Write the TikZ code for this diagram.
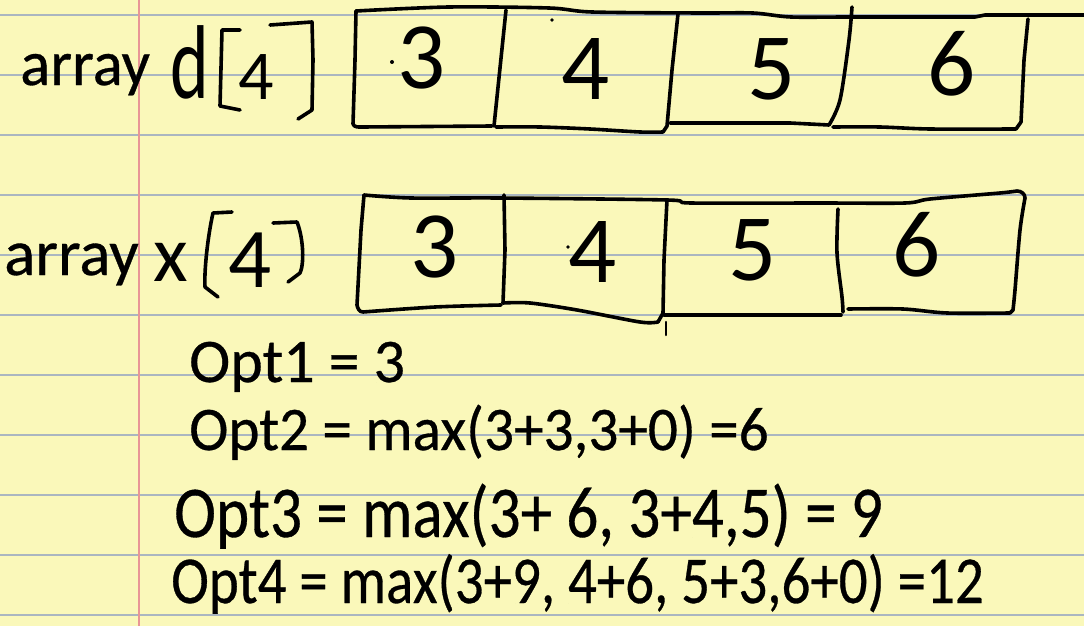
\documentclass[tikz,border=0pt]{standalone}
\usepackage{fontspec}
\setmainfont{Carlito}
\newfontfamily\typedfont{Carlito}[FakeBold=0.5]
\definecolor{paper}{RGB}{250,248,186}
\definecolor{rulec}{RGB}{170,182,192}
\definecolor{marginc}{RGB}{232,150,150}
\begin{document}
\begin{tikzpicture}[x=1pt,y=-1pt,
  ink/.style={line width=3.6pt, line cap=round, line join=round, black},
  typed/.style={inner sep=0pt, anchor=base west},
  digit/.style={inner sep=0pt, font=\fontsize{95}{95}\selectfont},
  hand/.style={inner sep=0pt}]
\fill[paper] (0,0) rectangle (1084,626);
\useasboundingbox (0,0) rectangle (1084,626);
\foreach \k in {0,...,10} \draw[rulec, line width=1.8pt] (0,15+60*\k) -- (1084,15+60*\k);
\draw[marginc, line width=1.8pt] (139,0) -- (139,626);

% typed labels
\node[typed, font=\typedfont\fontsize{64}{64}\selectfont] (arr1) at (20,85) {\scalebox{0.98}[1]{array}};
\node[typed, font=\typedfont\fontsize{65}{65}\selectfont] (arr2) at (4,275) {\scalebox{1.0}[1]{array}};

% handwritten names
\node[hand, font=\fontsize{105}{105}\selectfont] (dd) at (190,62) {\scalebox{0.7}[1]{d}};
\node[hand, font=\fontsize{70}{70}\selectfont] (d4) at (256,77) {4};
\node[hand, font=\fontsize{80}{80}\selectfont] (xx) at (171,262) {x};
\node[hand, font=\fontsize{85}{85}\selectfont] (x4) at (250,260) {4};
\draw[ink] (240,30) -- (222,30) -- (220,106) -- (240,110);
\draw[ink] (270,25) -- (312,22) -- (313,60) -- (312,110) -- (298,119);
\draw[ink] (232,212) -- (213,213) .. controls (208,235) and (204,270) .. (205,287) -- (218,297);
\draw[ink] (273,223) -- (297,222) .. controls (304,240) and (304,265) .. (300,273) -- (288,282);

% top row boxes
\draw[ink] (353,124) -- (355,60) -- (356,11);
\draw[ink] plot[smooth,tension=0.5] coordinates {(356,11) (449,7) (549,8) (592,12) (700,13) (753,13) (791,17) (850,17) (975,17)} -- (985,15) -- (1084,15);
\draw[ink] (353,124) to[out=-70,in=180] (362,127) -- (492,126);
\draw[ink] (506,10) -- (494,126);
\draw[ink] plot[smooth] coordinates {(496,127) (540,127) (590,129) (640,132) (663,132)};
\draw[ink] (678,14) -- (672,70) -- (667,126) -- (663,132);
\draw[ink] (670,123) -- (790,123) -- (829,125);
\draw[ink] plot[smooth] coordinates {(852,7) (849,40) (840,100) (829,125)};
\draw[ink] plot[smooth] coordinates {(833,127) (880,127) (930,129) (1016,129)};
\draw[ink] (1028,19) -- (1024,60) -- (1021,122) -- (1016,129);

% top row values
\node[digit] (a1) at (422,58) {3};
\node[digit] (a2) at (586,69) {4};
\node[digit] (a3) at (772,69) {5};
\node[digit] (a4) at (952,64) {6};
\fill (392,62) circle (2);
\fill (552,20) circle (1.8);

% second row boxes
\draw[ink] plot[smooth,tension=0.5] coordinates {(364,195) (411,198) (500,198) (667,200) (691,203) (820,203) (905,203) (930,199) (1000,193) (1017,191)} to[out=0,in=90] (1025,198);
\draw[ink] (364,195) -- (361,230) -- (357,305) to[out=-80,in=180] (363,312);
\draw[ink] plot[smooth] coordinates {(363,312) (435,307) (501,305)};
\draw[ink] (504,195) -- (505,250) -- (503,303);
\draw[ink] plot[smooth] coordinates {(503,303) (530,303) (577,310) (640,322) (658,322)};
\draw[ink] (667,200) -- (664,260) -- (663,313) -- (658,322);
\draw[ink, line width=2.5pt] (666,322) -- (666,335);
\draw[ink] (664,315) -- (841,315);
\draw[ink] plot[smooth] coordinates {(838,209) (837,253) (842,297) (843,312)};
\draw[ink] plot[smooth] coordinates {(848,309) (903,309) (947,313) (1010,313)};
\draw[ink] plot[smooth] coordinates {(1025,198) (1020,230) (1015,290) (1013,310)} -- (1010,313);

% second row values
\node[digit] (b1) at (435,247) {3};
\node[digit] (b2) at (593,252) {4};
\node[digit] (b3) at (753,250) {5};
\node[digit] (b4) at (917,245) {6};
\fill (568,247) circle (1.8);

% computations
\node[typed, font=\typedfont\fontsize{62}{62}\selectfont] (o1) at (189,382) {\scalebox{1.0}[1]{Opt1 = 3}};
\node[typed, font=\typedfont\fontsize{62}{62}\selectfont] (o2) at (189,450) {\scalebox{0.955}[1]{Opt2 = max(3+3,3+0) =6}};
\node[typed, font=\typedfont\fontsize{73}{73}\selectfont] (o3) at (174,537) {\scalebox{0.865}[1]{Opt3 = max(3+ 6, 3+4,5) = 9}};
\node[typed, font=\typedfont\fontsize{67}{67}\selectfont] (o4) at (171,603) {\scalebox{0.85}[1]{Opt4 = max(3+9, 4+6, 5+3,6+0) =12}};
\end{tikzpicture}
\end{document}
